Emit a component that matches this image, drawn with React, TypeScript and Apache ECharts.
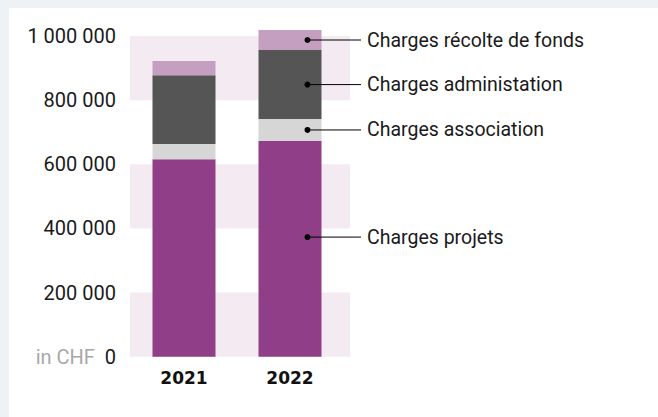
import React, { useEffect, useRef } from 'react';
import * as echarts from 'echarts';

const years = ['2021', '2022'];
const projets = [616000, 673000];
const association = [47000, 68000];
const administration = [215000, 215000];
const recolte = [44000, 63000];
const seriesNames = ['Charges projets', 'Charges association', 'Charges administation', 'Charges récolte de fonds'];
const seriesColors = ['#8f3e87', '#d6d6d6', '#555555', '#c59fc0'];
// values (in data space, 2022 bar) where the callout dots sit
const calloutValues2022 = [373000, 707000, 848500, 987500];
const yMin = 0;
const yMax = 1000000;
const yInterval = 200000;

const FONT = 'Roboto, "Noto Sans", sans-serif';

function fmt(v: number): string {
  return String(v).replace(/\B(?=(\d{3})+(?!\d))/g, ' ');
}

export default function App() {
  const ref = useRef<HTMLDivElement>(null);
  useEffect(() => {
    document.documentElement.style.background = '#eff2f5';
    document.documentElement.style.overflow = 'hidden';
    document.body.style.background = '#eff2f5';
    document.body.style.overflow = 'hidden';
    const chart = echarts.init(ref.current!, null, { renderer: 'svg' });
    const data = [projets, association, administration, recolte];
    chart.setOption({
      animation: false,
      backgroundColor: '#ffffff',
      grid: [
        { left: 122, width: 212, top: 28, height: 320.7 },
        { left: 121, width: 220, top: 28, height: 320.7 },
      ],
      xAxis: [
        {
          type: 'category',
          data: years,
          gridIndex: 0,
          axisLine: { show: false },
          axisTick: { show: false },
          axisLabel: {
            margin: 13,
            fontFamily: 'DejaVu Sans, sans-serif',
            fontWeight: 'bold',
            fontSize: 17,
            color: '#111',
          },
        },
        { type: 'value', gridIndex: 1, show: false, min: 0, max: 1 },
      ],
      yAxis: [
        {
          type: 'value',
          gridIndex: 0,
          min: yMin,
          max: yMax,
          interval: yInterval,
          axisLine: { show: false },
          axisTick: { show: false },
          splitLine: { show: false },
          axisLabel: {
            margin: 15,
            fontFamily: FONT,
            fontSize: 20,
            color: '#1a1a1a',
            formatter: (v: number) => (v === 0 ? '{g|in CHF}  {n|0}' : fmt(v)),
            rich: {
              g: { color: '#a8a8a8', fontFamily: FONT, fontSize: 20 },
              n: { color: '#1a1a1a', fontFamily: FONT, fontSize: 20 },
            },
          },
        },
        {
          type: 'value',
          gridIndex: 1,
          min: yMin,
          max: yMax,
          interval: yInterval,
          axisLine: { show: false },
          axisTick: { show: false },
          axisLabel: { show: false },
          splitLine: { show: false },
          splitArea: { show: true, areaStyle: { color: ['#f3eaf2', 'rgba(255,255,255,0)'] } },
        },
      ],
      series: data.map((d, i) => ({
        type: 'bar',
        name: seriesNames[i],
        stack: 'total',
        xAxisIndex: 0,
        yAxisIndex: 0,
        barWidth: 63,
        clip: false,
        itemStyle: { color: seriesColors[i] },
        data: d,
        z: 3,
      })),
    });

    const graphics: any[] = [];
    calloutValues2022.forEach((v, i) => {
      const [cx, cy] = chart.convertToPixel({ gridIndex: 0 }, [1, v]) as number[];
      const dotX = cx + 17.5;
      const endX = 352;
      graphics.push({
        type: 'line',
        shape: { x1: dotX, y1: cy, x2: endX, y2: cy },
        style: { stroke: '#000', lineWidth: 1 },
        z: 10,
      });
      graphics.push({
        type: 'circle',
        shape: { cx: dotX, cy, r: 3 },
        style: { fill: '#000' },
        z: 11,
      });
      graphics.push({
        type: 'text',
        x: 358,
        y: cy,
        style: {
          text: seriesNames[i],
          fontFamily: FONT,
          fontSize: 19.5,
          fill: '#1a1a1a',
          verticalAlign: 'middle',
          align: 'left',
        },
        z: 11,
      });
    });
    chart.setOption({ graphic: graphics });

    return () => chart.dispose();
  }, []);
  return (
    <div
      ref={ref}
      style={{ position: 'fixed', left: 9, top: 8, width: 700, height: 450, background: '#fff' }}
    />
  );
}
